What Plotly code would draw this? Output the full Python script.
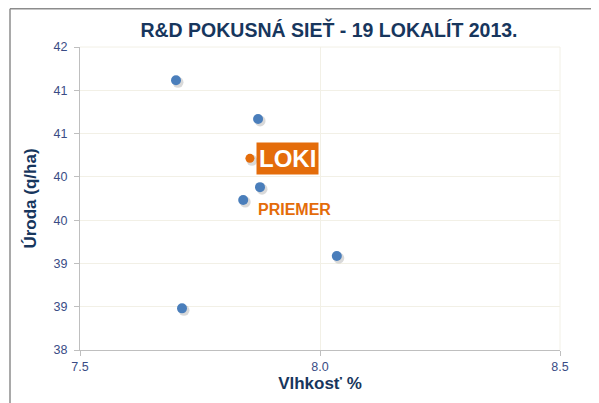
import plotly.graph_objects as go

# Data
moisture = [7.70, 7.871, 7.875, 7.840, 8.035, 7.7125]
yield_qha = [41.56, 41.05, 40.15, 39.98, 39.24, 38.55]
loki_moisture = [7.854]
loki_yield = [40.53]
priemer_pos = (7.871, 39.86)

x_ticks = [7.5, 8.0, 8.5]
x_tick_labels = ["7.5", "8.0", "8.5"]
y_min, y_max, y_steps = 38, 42, 7

FONT = "Arial, Liberation Sans, sans-serif"
NAVY = "#17365D"
TICK = "#3A4C85"
BLUE = "#4A7EBB"
ORANGE = "#E46C0A"
GRID = "#F2F0E6"

# page has an 8px body margin; layout in figure pixels
L, T, PW, PH = 72, 39, 480, 303
W, H = 599, 403

# shadow offsets (pixels -> data units)
dx = 2.0 / PW * (x_ticks[-1] - x_ticks[0])
dy = 2.0 / PH * (y_max - y_min)

fig = go.Figure()
fig.add_trace(go.Scatter(
    x=[v + dx for v in moisture + loki_moisture],
    y=[v - dy for v in yield_qha + loki_yield],
    mode="markers",
    marker=dict(size=11, color="rgba(0,0,0,0.15)"),
    hoverinfo="skip", showlegend=False))
fig.add_trace(go.Scatter(
    x=moisture, y=yield_qha, mode="markers",
    marker=dict(size=10, color=BLUE), showlegend=False))
fig.add_trace(go.Scatter(
    x=loki_moisture, y=loki_yield, mode="markers",
    marker=dict(size=9, color=ORANGE), showlegend=False))

fig.add_annotation(
    x=loki_moisture[0], y=loki_yield[0], xref="x", yref="y",
    text="<b>LOKI</b>", showarrow=False, xanchor="left", yanchor="middle",
    xshift=6, yshift=0, bgcolor=ORANGE, borderpad=2,
    font=dict(family=FONT, size=24, color="white"))
fig.add_annotation(
    x=priemer_pos[0], y=priemer_pos[1], xref="x", yref="y",
    text="<b>PRIEMER</b>", showarrow=False, xanchor="left", yanchor="middle",
    xshift=-2,
    font=dict(family=FONT, size=16, color=ORANGE))

# outer frame lines (top and left)
fx = lambda px: (px - L) / PW
fy = lambda py: (T + PH - py) / PH
fig.add_shape(type="line", xref="paper", yref="paper",
              x0=fx(2), x1=fx(W), y0=fy(0.8), y1=fy(0.8),
              line=dict(color="#8C8C8C", width=1.5))
fig.add_shape(type="line", xref="paper", yref="paper",
              x0=fx(2), x1=fx(2), y0=fy(0.8), y1=fy(H),
              line=dict(color="#8C8C8C", width=1.5))

fig.update_layout(
    width=W, height=H,
    margin=dict(l=L, r=W - L - PW, t=T, b=H - T - PH, autoexpand=False),
    paper_bgcolor="white", plot_bgcolor="white",
    title=dict(text="<b>R&D POKUSNÁ SIEŤ - 19 LOKALÍT 2013.</b>",
               x=(329 - 8) / W, xanchor="center", y=1 - 22 / H, yanchor="middle",
               font=dict(family=FONT, size=19.5, color=NAVY)),
    font=dict(family=FONT),
)
fig.update_xaxes(
    range=[x_ticks[0], x_ticks[-1]], tickvals=x_ticks, ticktext=x_tick_labels,
    showgrid=True, gridcolor=GRID, gridwidth=1,
    showline=True, linecolor="#BFBFBF", linewidth=1,
    ticks="outside", ticklen=5, tickcolor="#BFBFBF",
    tickfont=dict(family=FONT, size=12.5, color=TICK), zeroline=False,
    title=dict(text="<b>Vlhkosť %</b>", standoff=4,
               font=dict(family=FONT, size=17, color=NAVY)))
fig.update_yaxes(
    range=[y_min, y_max], tick0=y_min, dtick=(y_max - y_min) / y_steps,
    tickformat=".0f", ticklabelstandoff=4,
    showgrid=True, gridcolor=GRID, gridwidth=1,
    showline=True, linecolor="#BFBFBF", linewidth=1,
    ticks="outside", ticklen=5, tickcolor="#BFBFBF",
    tickfont=dict(family=FONT, size=12.5, color=TICK), zeroline=False,
    title=dict(text="<b>Úroda (q/ha)</b>", standoff=12,
               font=dict(family=FONT, size=17, color=NAVY)))
# right/top plot border as light lines
fig.add_shape(type="line", xref="paper", yref="paper", x0=1, x1=1, y0=0, y1=1,
              line=dict(color=GRID, width=1))
fig.add_shape(type="line", xref="paper", yref="paper", x0=0, x1=1, y0=1, y1=1,
              line=dict(color=GRID, width=1))

fig.write_html("out.html")
